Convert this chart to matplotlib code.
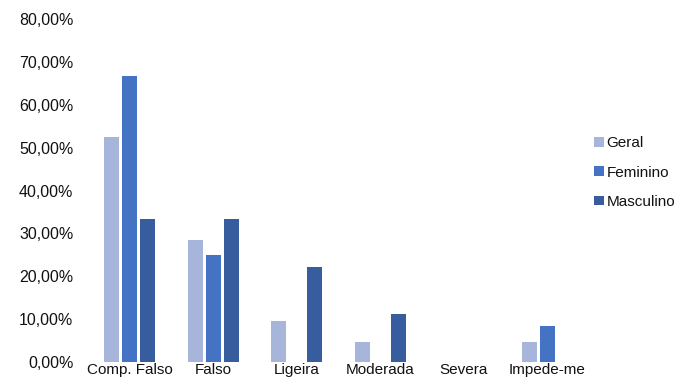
import matplotlib
matplotlib.use("Agg")
import matplotlib.pyplot as plt
import numpy as np
from matplotlib.ticker import FuncFormatter

categories = ["Comp. Falso", "Falso", "Ligeira", "Moderada", "Severa", "Impede-me"]
geral = [52.38, 28.57, 9.52, 4.76, 0.0, 4.76]
feminino = [66.67, 25.00, 0.0, 0.0, 0.0, 8.33]
masculino = [33.33, 33.33, 22.22, 11.11, 0.0, 0.0]
series_names = ["Geral", "Feminino", "Masculino"]
colors = ["#A8B5DB", "#4573C4", "#385D9F"]

plt.rcParams["font.family"] = ["Liberation Sans", "DejaVu Sans"]
text_color = "#111111"

fig = plt.figure(figsize=(6.88, 3.83), dpi=100)
ax = fig.add_axes([0.128, 0.055, 0.728, 0.895])

x = np.arange(len(categories))
width = 0.178
step = 0.215
for i, (vals, name, c) in enumerate(zip([geral, feminino, masculino], series_names, colors)):
    ax.bar(x + (i - 1) * step, vals, width, color=c, label=name, linewidth=0)

ax.set_xlim(-0.5, len(categories) - 0.5)
ax.set_ylim(0, 80)
ax.set_yticks(np.arange(0, 81, 10))
ax.yaxis.set_major_formatter(FuncFormatter(lambda v, p: f"{v:.2f}%".replace(".", ",")))
ax.set_xticks(x)
ax.set_xticklabels(categories)

for s in ax.spines.values():
    s.set_visible(False)
ax.tick_params(axis="both", length=0, labelsize=11, colors=text_color)
ax.tick_params(axis="y", pad=10.5, labelsize=11.5)
ax.tick_params(axis="x", pad=1)

leg = fig.legend(loc="upper left", bbox_to_anchor=(0.855, 0.66), frameon=False,
                 fontsize=11, handlelength=0.6, handleheight=0.6, handletextpad=0.2,
                 labelspacing=1.0, borderaxespad=0)
for t in leg.get_texts():
    t.set_color(text_color)

fig.savefig("out.png", dpi=100, facecolor="white")
